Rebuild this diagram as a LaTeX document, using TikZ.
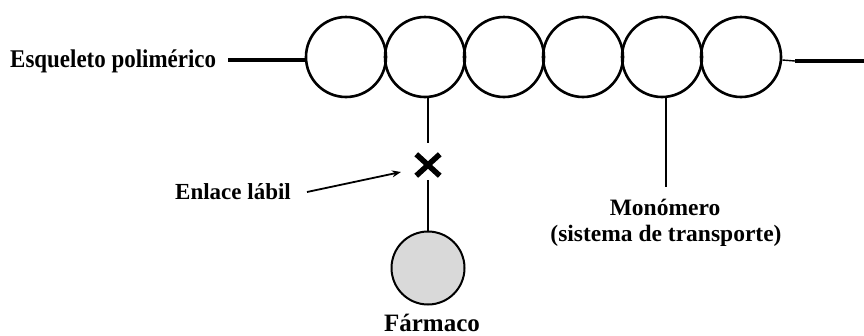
\documentclass[tikz,border=0pt]{standalone}
\usepackage{fontspec}
\setmainfont{Liberation Serif}
\newfontfamily\condfont{Liberation Serif}[FakeStretch=0.9]
\usetikzlibrary{shapes.misc,arrows.meta}
\begin{document}
\begin{tikzpicture}[x=1pt,y=-1pt,
  mono/.style={circle,draw,line width=2.6pt,minimum size=80pt,inner sep=0pt},
  lbl/.style={font=\bfseries\fontsize{23.5}{27}\selectfont,inner sep=0pt},
  bond/.style={line width=2.4pt},
  chain/.style={line width=3.6pt}]
\useasboundingbox (0,0) rectangle (864,335);
\foreach \i/\x in {1/346,2/425,3/504,4/583,5/662,6/741}
  \node[mono] (c\i) at (\x,57) {};
\node[lbl,font=\condfont\bfseries\fontsize{25.5}{28}\selectfont,anchor=base west] (esq) at (10,67) {Esqueleto polimérico};
\coordinate (lstart) at (228,60);
\coordinate (rend) at (864,61);
\coordinate (rstub) at (795,61);
\draw[chain] (lstart) -- (c1.west |- lstart);
\draw[line width=1.4pt] (c6.east |- 0,60) -- (rstub);
\draw[chain] (rstub) -- (rend);
\node[cross out,draw,line width=5.5pt,minimum width=18pt,minimum height=16pt,inner sep=0pt] (xm) at (428,165) {};
\node[circle,draw,line width=2pt,fill=gray!30,minimum size=73pt,inner sep=0pt] (drug) at (428,268) {};
\coordinate (b1) at (428,98);
\coordinate (b1e) at (428,143);
\coordinate (b2) at (428,180);
\draw[bond] (b1) -- (b1e);
\draw[bond] (b2) -- (drug.north);
\node[lbl,font=\bfseries\fontsize{25}{28}\selectfont,anchor=base] (farm) at (432,331) {Fármaco};
\node[lbl,font=\bfseries\fontsize{23}{27}\selectfont,anchor=base west] (enl) at (175,199) {Enlace lábil};
\coordinate (atail) at (307,192);
\coordinate (ah) at (401,172);
\draw[line width=1.8pt,-{Stealth[length=9pt,width=7pt]}] (atail) -- (ah);
\coordinate (m1) at (666,98);
\coordinate (m1e) at (666,187);
\node[lbl,anchor=base] (mono1) at (665,215) {Monómero};
\node[lbl,anchor=base] (mono2) at (666,241) {(sistema de transporte)};
\draw[bond] (m1) -- (m1e);
\end{tikzpicture}
\end{document}
